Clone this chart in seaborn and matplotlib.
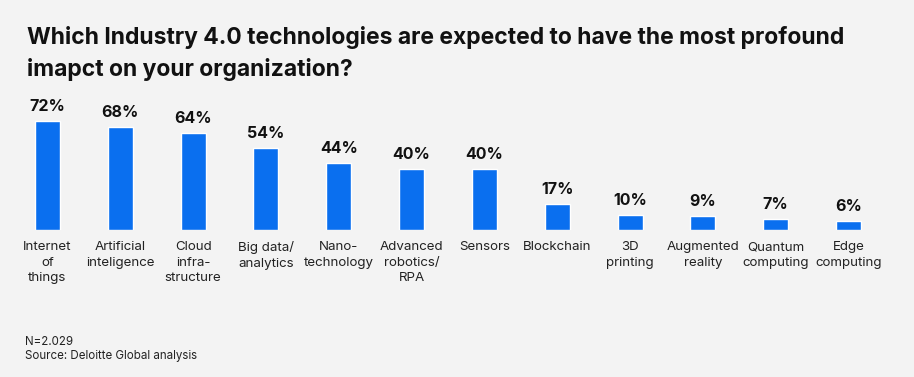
import matplotlib
matplotlib.use("Agg")
import matplotlib.pyplot as plt
import seaborn as sns
import pandas as pd

categories = ["Internet\nof\nthings", "Artificial\ninteligence", "Cloud\ninfra-\nstructure",
              "Big data/\nanalytics", "Nano-\ntechnology", "Advanced\nrobotics/\nRPA",
              "Sensors", "Blockchain", "3D\nprinting", "Augmented\nreality",
              "Quantum\ncomputing", "Edge\ncomputing"]
values = [72, 68, 64, 54, 44, 40, 40, 17, 10, 9, 7, 6]
value_labels = [f"{v}%" for v in values]

title = "Which Industry 4.0 technologies are expected to have the most profound\nimapct on your organization?"
note_lines = ["N=2.029", "Source: Deloitte Global analysis"]

BG = "#f3f3f3"
BAR = "#0a6fef"

sns.set_theme(style="white")
plt.rcParams["font.family"] = ["Inter", "DejaVu Sans"]

W, H = 914, 377
fig = plt.figure(figsize=(W / 100, H / 100), dpi=100, facecolor=BG)
L, R = 11.1, 884.9
bottom_px = 230
ax = fig.add_axes([L / W, (H - bottom_px) / H, (R - L) / W, 151.6 / H])
ax.set_facecolor(BG)

df = pd.DataFrame({"cat": categories, "val": values})
sns.barplot(data=df, x="cat", y="val", color=BAR, saturation=1, width=0.343, ax=ax)
ax.set_xlim(-0.5, len(categories) - 0.5)
ax.set_ylim(0, 100)
ax.bar_label(ax.containers[0], labels=value_labels, padding=5, fontsize=11.5,
             fontweight="bold", color="#111111")
ax.set_xlabel("")
ax.set_ylabel("")
ax.set_yticks([])
ax.tick_params(axis="x", length=0, pad=8, labelsize=9.6, labelcolor="#222222")
for lbl in ax.get_xticklabels():
    lbl.set_linespacing(1.38)
    lbl.set_horizontalalignment("center")
for s in ax.spines.values():
    s.set_visible(False)

fig.text(27 / W, 1 - 26 / H, title, fontsize=16.5, fontweight="bold", color="#111111",
         va="top", ha="left", linespacing=1.5)
fig.text(25 / W, 1 - 336 / H, note_lines[0], fontsize=8.3, color="#222222", va="top")
fig.text(25 / W, 1 - 350 / H, note_lines[1], fontsize=8.3, color="#222222", va="top")

fig.savefig("out.png", dpi=100, facecolor=BG)
